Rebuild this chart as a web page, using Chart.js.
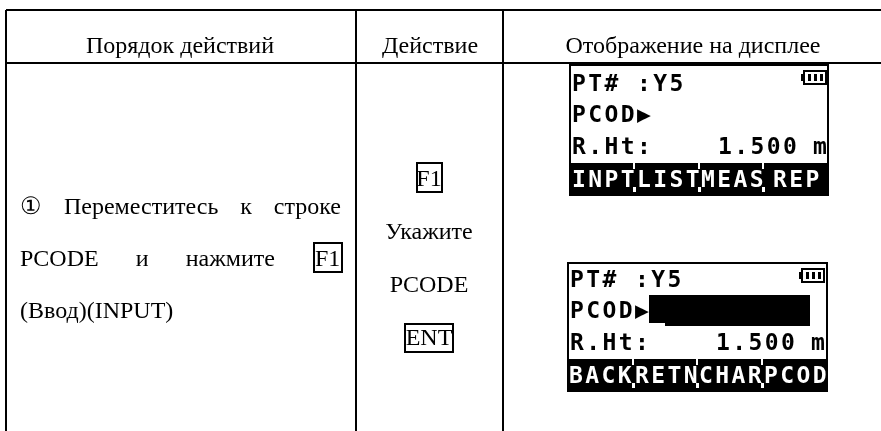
<!DOCTYPE html>
<html>
<head>
<meta charset="utf-8">
<style>
    html, body { margin: 0; padding: 0; background: #fff; }
    canvas { display: block; }
</style>
<script src="https://cdn.jsdelivr.net/npm/chart.js@4/dist/chart.umd.min.js"></script>
</head>
<body>
<canvas id="tableChart" width="881" height="431"></canvas>
<script>
const headerLabels = ['Порядок действий', 'Действие', 'Отображение на дисплее'];
const stepLine1 = ['①', 'Переместитесь', 'к', 'строке'];
const stepLine2 = ['PCODE', 'и', 'нажмите'];
const stepLine3 = '(Ввод)(INPUT)';
const actionLines = ['F1', 'Укажите', 'PCODE', 'ENT'];
const boxedKey = 'F1';
const lcdRow1 = 'PT# :Y5';
const lcdRow2 = 'PCOD▶';
const lcdRow3 = ['R.Ht:', '1.500', 'm'];
const lcdMenu1 = ['INPT', 'LIST', 'MEAS', 'REP'];
const lcdMenu2 = ['BACK', 'RETN', 'CHAR', 'PCOD'];

const columnLines = [6, 356, 503];
const rowLines = [10, 63];

const SERIF = '24px "Liberation Serif"';
const LCD_FONT = 'bold 23px "DejaVu Sans Mono"';

function battery(ctx, x, y) {
    ctx.strokeStyle = '#000';
    ctx.lineWidth = 2;
    ctx.strokeRect(x + 3, y + 1, 22, 13);
    ctx.fillStyle = '#000';
    ctx.fillRect(x, y + 4, 3, 7);
    [7, 13, 19].forEach(dx => ctx.fillRect(x + dx, y + 4, 3, 7));
}

function drawLcd(ctx, o) {
    // рамка
    ctx.fillStyle = '#000';
    ctx.fillRect(o.left, o.top, 2, o.bottom - o.top);
    ctx.fillRect(o.right, o.top, 2, o.bottom - o.top);
    ctx.fillRect(o.left, o.top, o.right - o.left + 2, 2);

    // строки
    ctx.font = LCD_FONT;
    ctx.letterSpacing = '2.4px';
    ctx.textAlign = 'left';
    ctx.textBaseline = 'alphabetic';
    ctx.fillText(lcdRow1, o.left + 3, o.rows[0]);
    ctx.fillText(lcdRow2, o.left + 3, o.rows[1]);
    ctx.fillText(lcdRow3[0], o.left + 3, o.rows[2]);
    ctx.fillText(lcdRow3[1], o.left + 149, o.rows[2]);
    ctx.fillText(lcdRow3[2], o.left + 244, o.rows[2]);
    battery(ctx, o.left + 232, o.top + 6);

    // нижнее меню
    ctx.fillStyle = '#000';
    ctx.fillRect(o.left, o.barTop, o.right - o.left + 2, o.bottom - o.barTop);
    ctx.fillStyle = '#fff';
    o.notches.forEach(x => {
        ctx.fillRect(x, o.barTop, 2, 6);
        ctx.fillRect(x, o.bottom - 9, 3, 5);
    });
    o.menu.forEach((label, i) => ctx.fillText(label, o.menuX[i], o.menuBase));
    ctx.letterSpacing = '0px';
}

const tablePlugin = {
    id: 'tablePlugin',
    afterDraw(chart) {
        const ctx = chart.ctx;
        const sx = chart.scales.x;
        const sy = chart.scales.y;
        const X = v => sx.getPixelForValue(v);
        const Y = v => sy.getPixelForValue(v);

        ctx.save();
        ctx.fillStyle = '#000';
        ctx.font = SERIF;
        ctx.textBaseline = 'alphabetic';

        // шапка
        ctx.textAlign = 'center';
        ctx.fillText(headerLabels[0], X(180), Y(53));
        ctx.fillText(headerLabels[1], X(430), Y(53));
        ctx.fillText(headerLabels[2], X(693), Y(53));

        // первая колонка, слова растянуты по ширине
        ctx.textAlign = 'left';
        function justify(words, left, right, base) {
            const total = words.reduce((s, w) => s + ctx.measureText(w).width, 0);
            const gap = (right - left - total) / (words.length - 1);
            let x = left;
            words.forEach(w => {
                ctx.fillText(w, X(x), Y(base));
                x += ctx.measureText(w).width + gap;
            });
        }
        justify(stepLine1, 20, 341, 214);
        justify(stepLine2, 20, 275, 266);
        ctx.fillText(boxedKey, X(315), Y(266));
        ctx.fillText(stepLine3, X(20), Y(318));
        ctx.strokeStyle = '#000';
        ctx.lineWidth = 2;
        ctx.strokeRect(X(314), Y(243), 28, 29);

        // вторая колонка
        ctx.textAlign = 'center';
        const actionBases = [186, 239, 292, 345];
        actionLines.forEach((t, i) => ctx.fillText(t, X(429), Y(actionBases[i])));
        ctx.strokeRect(X(417), Y(163), 25, 29);
        ctx.strokeRect(X(405), Y(324), 48, 28);

        // экраны
        drawLcd(ctx, {
            left: 569, right: 827, top: 64, bottom: 196, barTop: 163,
            rows: [91, 122, 154], menuBase: 187,
            menu: lcdMenu1, menuX: [572, 637, 701, 773],
            notches: [633, 698, 762]
        });
        drawLcd(ctx, {
            left: 567, right: 826, top: 262, bottom: 392, barTop: 359,
            rows: [287, 318, 350], menuBase: 383,
            menu: lcdMenu2, menuX: [569, 635, 699, 764],
            notches: [632, 696, 761]
        });

        // поле ввода PCODE
        ctx.fillStyle = '#000';
        ctx.fillRect(649, 295, 161, 28);
        ctx.fillRect(665, 323, 145, 3);
        ctx.restore();
    }
};

new Chart(document.getElementById('tableChart').getContext('2d'), {
    type: 'scatter',
    data: { datasets: [] },
    plugins: [tablePlugin],
    options: {
        responsive: false,
        animation: false,
        layout: { padding: { left: 6, top: 10, right: 0, bottom: 0 } },
        plugins: { legend: { display: false }, tooltip: { enabled: false } },
        scales: {
            x: {
                type: 'linear', min: 6, max: 881,
                afterBuildTicks: axis => { axis.ticks = columnLines.map(value => ({ value })); },
                ticks: { display: false },
                border: { display: false },
                grid: { color: '#000', lineWidth: 2, drawTicks: false }
            },
            y: {
                type: 'linear', min: 10, max: 431, reverse: true,
                afterBuildTicks: axis => { axis.ticks = rowLines.map(value => ({ value })); },
                ticks: { display: false },
                border: { display: false },
                grid: { color: '#000', lineWidth: 2, drawTicks: false }
            }
        }
    }
});
</script>
</body>
</html>
